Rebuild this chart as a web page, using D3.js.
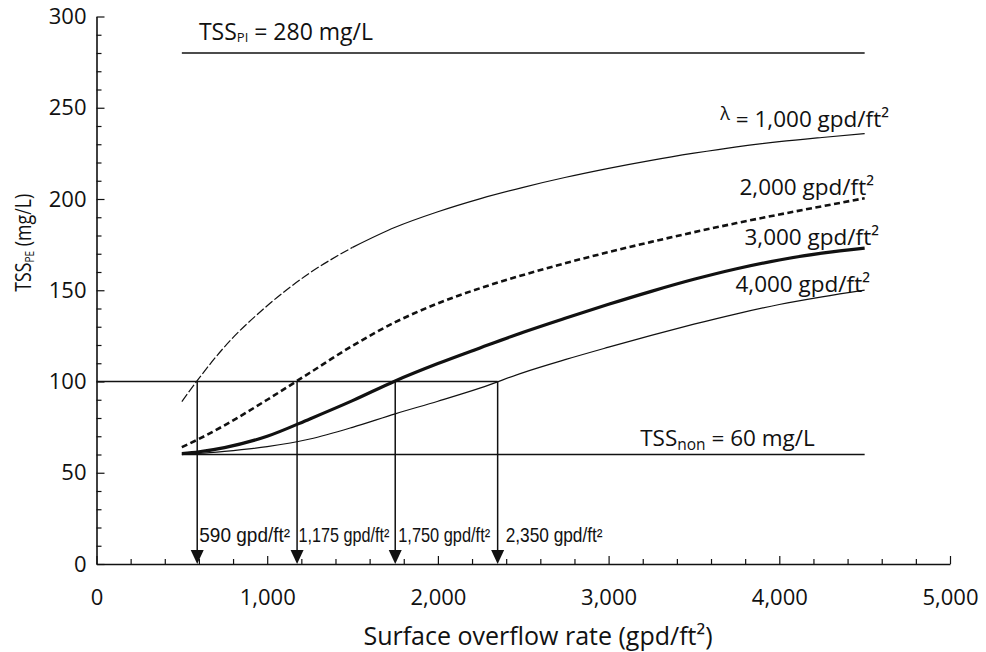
<!DOCTYPE html>
<html>
<head>
<meta charset="utf-8">
<script src="https://cdn.jsdelivr.net/npm/d3@7/dist/d3.min.js"></script>
<style>
  html, body { margin: 0; padding: 0; background: #fff; }
  svg { display: block; }
  text { font-family: "Open Sans", Lato, "DejaVu Sans", sans-serif; fill: #111; }
  .narrow { font-family: "Liberation Sans Narrow", "Liberation Sans", Arial, sans-serif; }
</style>
</head>
<body>
<svg id="chart" width="986" height="652"></svg>
<script>
// Surface overflow rate (gpd/ft²) at which each curve was sampled
const sor = [500, 600, 750, 1000, 1250, 1500, 1750, 2000, 2250, 2500, 2750, 3000, 3250, 3500, 3750, 4000, 4250, 4500];

// Primary effluent TSS (mg/L) for each hydraulic loading λ
const tssL1000 = [89, 101.7, 119, 141.5, 159.5, 173.5, 184.5, 193, 200.2, 206.4, 211.9, 216.8, 221.2, 225.1, 228.6, 231.4, 233.7, 235.8];
const tssL2000 = [64, 68.5, 76, 90, 104.8, 119.6, 132.5, 142.8, 151.2, 158.4, 164.9, 170.9, 176.5, 181.8, 186.8, 191.5, 196, 200.4];
const tssL3000 = [60.5, 61.5, 63.8, 70, 79.5, 89.5, 100.3, 109.8, 118.5, 127, 134.8, 142.3, 149.4, 156, 161.8, 166.6, 170.3, 173.1];
const tssL4000 = [60.2, 60.6, 61.7, 64.3, 68.5, 74.9, 82.3, 89.2, 96.5, 104.9, 112.1, 118.8, 125.3, 131.4, 137.1, 142.2, 146.4, 150.1];

// Reference concentrations (mg/L)
const tssPI = 280;
const tssNon = 60;
const tssTarget = 100;

// Overflow rates at which each curve reaches the target
const designRates = [590, 1175, 1750, 2350];
const designLabels = ["590", "1,175", "1,750", "2,350"];

// Axis ticks
const xMajorTicks = [0, 1000, 2000, 3000, 4000, 5000];
const yMajorTicks = [0, 50, 100, 150, 200, 250, 300];

const svg = d3.select("#chart");
const x = d3.scaleLinear().domain([0, 5000]).range([96.5, 950]);
const y = d3.scaleLinear().domain([0, 300]).range([564, 16.5]);
const ink = "#111";

// ---- axes -------------------------------------------------------------
const xAxis = d3.axisBottom(x)
  .tickValues(d3.range(0, 5001, 200))
  .tickSizeInner(-5).tickSizeOuter(0).tickPadding(25)
  .tickFormat(d => xMajorTicks.includes(d) ? d3.format(",")(d) : "");
const gx = svg.append("g").attr("transform", `translate(0,${y(0)})`).call(xAxis);
gx.selectAll(".tick line").attr("y2", d => xMajorTicks.includes(d) ? -8 : -5);

const yAxis = d3.axisLeft(y)
  .tickValues(d3.range(0, 301, 10))
  .tickSizeInner(-5).tickSizeOuter(0).tickPadding(10)
  .tickFormat(d => yMajorTicks.includes(d) ? d : "");
const gy = svg.append("g").attr("transform", `translate(${x(0)},0)`).call(yAxis);
gy.selectAll(".tick line").attr("x2", d => yMajorTicks.includes(d) ? 8 : 5);

[gx, gy].forEach(g => {
  g.select(".domain").attr("stroke", ink).attr("stroke-width", 1.6);
  g.selectAll(".tick line").attr("stroke", ink).attr("stroke-width", 1.2);
  g.selectAll(".tick text").attr("font-size", 22).attr("fill", ink)
    .style("font-family", "'Open Sans', Lato, sans-serif");
});

// axis titles
svg.append("text")
  .attr("x", 538).attr("y", 645).attr("text-anchor", "middle").attr("font-size", 25)
  .text("Surface overflow rate (gpd/ft²)");

const yt = svg.append("text")
  .attr("transform", `translate(31,${y(176)}) rotate(-90)`)
  .attr("text-anchor", "middle").attr("font-size", 21)
  .attr("textLength", 98).attr("lengthAdjust", "spacingAndGlyphs");
yt.append("tspan").text("TSS");
yt.append("tspan").attr("font-size", 12).attr("dy", 3).text("PE");
yt.append("tspan").attr("dy", -3).text(" (mg/L)");

// ---- reference lines --------------------------------------------------
const hline = (v, x0, x1, w) => svg.append("line")
  .attr("x1", x(x0)).attr("x2", x(x1)).attr("y1", y(v)).attr("y2", y(v))
  .attr("stroke", ink).attr("stroke-width", w);

hline(tssPI, 500, 4500, 1.4);
hline(tssNon, 500, 4500, 1.4);
hline(tssTarget, 0, d3.max(designRates), 1.4);

const piLabel = svg.append("text").attr("x", x(600)).attr("y", y(tssPI) - 13).attr("font-size", 23);
piLabel.append("tspan").text("TSS");
piLabel.append("tspan").attr("font-size", 13).attr("dy", 2).text("PI");
piLabel.append("tspan").attr("dy", -2).text(" = 280  mg/L");

const nonLabel = svg.append("text").attr("x", x(3185)).attr("y", y(tssNon) - 9).attr("font-size", 22.5);
nonLabel.append("tspan").text("TSS");
nonLabel.append("tspan").attr("font-size", 15.5).attr("dy", 4).text("non");
nonLabel.append("tspan").attr("dy", -4).text(" = 60  mg/L");

// ---- curves -----------------------------------------------------------
const line = d3.line().x(d => x(d[0])).y(d => y(d[1])).curve(d3.curveMonotoneX);
const pts = vals => sor.map((s, i) => [s, vals[i]]);

// λ = 1,000: broken stroke on the steep initial rise, solid afterwards
const l1 = pts(tssL1000);
svg.append("path").datum(l1.filter(d => d[0] <= 1500)).attr("d", line)
  .attr("fill", "none").attr("stroke", ink).attr("stroke-width", 1.2).attr("stroke-dasharray", "9,2.5");
svg.append("path").datum(l1.filter(d => d[0] >= 1500)).attr("d", line)
  .attr("fill", "none").attr("stroke", ink).attr("stroke-width", 1.2);

svg.append("path").datum(pts(tssL2000)).attr("d", line)
  .attr("fill", "none").attr("stroke", ink).attr("stroke-width", 2.6).attr("stroke-dasharray", "6,3.5");
svg.append("path").datum(pts(tssL3000)).attr("d", line)
  .attr("fill", "none").attr("stroke", ink).attr("stroke-width", 3.2);
svg.append("path").datum(pts(tssL4000)).attr("d", line)
  .attr("fill", "none").attr("stroke", ink).attr("stroke-width", 1.2);

// curve labels
const lam = svg.append("text").attr("x", 889).attr("y", 127).attr("text-anchor", "end").attr("font-size", 22.5);
lam.append("tspan").attr("font-size", 18).attr("dy", -7).text("λ");
lam.append("tspan").attr("dy", 7).text(" = 1,000 gpd/ft²");

[["2,000", 874, 195], ["3,000", 879, 245], ["4,000", 870, 292]].forEach(([t, lx, ly]) => {
  svg.append("text").attr("x", lx).attr("y", ly).attr("text-anchor", "end").attr("font-size", 22.5)
    .text(`${t} gpd/ft²`);
});

// ---- design-rate arrows -----------------------------------------------
const aw = 6.5, ah = 14;
const labelWidths = [91, 91, 92, 97];
const labelGaps = [2, 1.5, 3, 8];
designRates.forEach((r, i) => {
  const cx = x(r);
  svg.append("line").attr("x1", cx).attr("x2", cx).attr("y1", y(tssTarget)).attr("y2", y(0) - ah)
    .attr("stroke", ink).attr("stroke-width", 1.5);
  svg.append("path")
    .attr("d", `M${cx - aw},${y(0) - ah}L${cx + aw},${y(0) - ah}L${cx},${y(0)}Z`)
    .attr("fill", ink);
  // condensed label: squeeze horizontally to the space between arrows
  const t = svg.append("text").attr("class", "narrow")
    .attr("font-size", 20)
    .text(`${designLabels[i]} gpd/ft²`);
  const natural = t.node().getComputedTextLength();
  t.attr("transform", `translate(${cx + labelGaps[i]},542) scale(${labelWidths[i] / natural},1)`);
});
</script>
</body>
</html>
